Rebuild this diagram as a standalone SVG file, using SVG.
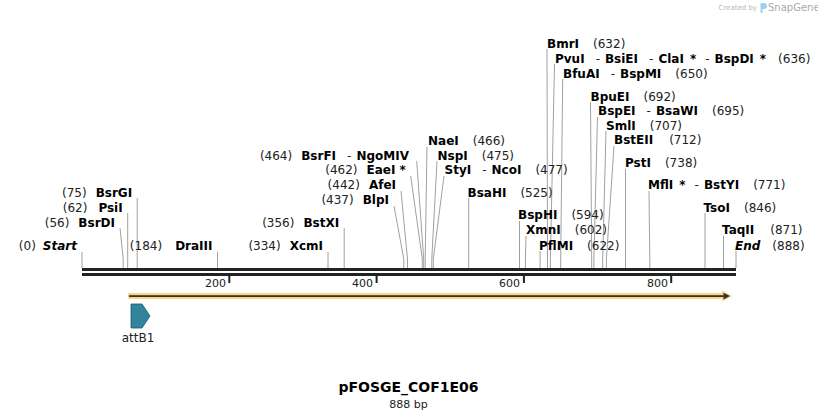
<svg xmlns="http://www.w3.org/2000/svg" width="818" height="419" viewBox="0 0 818 419">
<style>
text{font-family:"DejaVu Sans",Verdana,sans-serif;font-size:12px;fill:#222}
.b{font-weight:bold;fill:#000}
.i{font-style:italic}
.e{text-anchor:end}
.cut{fill:none;stroke:#a0a0a0;stroke-width:1}
.tick{fill:#222}
.tl{font-size:11px;text-anchor:end}
</style>
<rect width="818" height="419" fill="#fff"/>
<g id="watermark">
<text x="757" y="10" text-anchor="end" style="font-size:7px;fill:#b8b8b8">Created by</text>
<path d="M760.5 3 h3.5 a3 3 0 0 1 0 6 h-1.5 v4 h-2 z" fill="#9fd0ef"/>
<text x="768" y="11" style="font-size:10px;fill:#aaa">SnapGene</text>
</g>
<g id="connectors">
<path class="cut" d="M82 252V268"/>
<path class="cut" d="M120 228L123.2 259V268"/>
<path class="cut" d="M127.7 213V268"/>
<path class="cut" d="M137.2 198V268"/>
<path class="cut" d="M217.5 252V268"/>
<path class="cut" d="M328 252V268"/>
<path class="cut" d="M344.2 228V268"/>
<path class="cut" d="M394 206L403.8 259V268"/>
<path class="cut" d="M401 191L407.5 259V268"/>
<path class="cut" d="M410.7 176L422.3 259V268"/>
<path class="cut" d="M416.7 161L423.7 259V268"/>
<path class="cut" d="M427 147L425.2 259V268"/>
<path class="cut" d="M437 161L431.8 259V268"/>
<path class="cut" d="M444 176L433.3 259V268"/>
<path class="cut" d="M468.7 198V268"/>
<path class="cut" d="M519.5 221V268"/>
<path class="cut" d="M526 236L525.4 259V268"/>
<path class="cut" d="M540.1 251V268"/>
<path class="cut" d="M547 49L547.5 259V268"/>
<path class="cut" d="M554.5 64L550.4 259V268"/>
<path class="cut" d="M562.7 79L560.7 259V268"/>
<path class="cut" d="M590.5 102L591.7 259V268"/>
<path class="cut" d="M597.5 117L593.9 259V268"/>
<path class="cut" d="M606 131L602.7 259V268"/>
<path class="cut" d="M614 146L606.4 259V268"/>
<path class="cut" d="M625.5 169V268"/>
<path class="cut" d="M649 191L649.8 259V268"/>
<path class="cut" d="M705 213V268"/>
<path class="cut" d="M723.5 236V268"/>
<path class="cut" d="M736 251V268"/>
</g>
<g id="backbone">
<rect x="82" y="268" width="654" height="3" fill="#222"/>
<rect x="82" y="273" width="654" height="3" fill="#222"/>
<rect class="tick" x="228.3" y="276" width="2" height="7"/>
<rect class="tick" x="375.6" y="276" width="2" height="7"/>
<rect class="tick" x="522.9" y="276" width="2" height="7"/>
<rect class="tick" x="670.2" y="276" width="2" height="7"/>
<text class="tl" x="226" y="287">200</text>
<text class="tl" x="373" y="287">400</text>
<text class="tl" x="520" y="287">600</text>
<text class="tl" x="668" y="287">800</text>
</g>
<g id="orf">
<rect x="128" y="293" width="596" height="6" fill="#fcd58a"/>
<polygon points="722,290.5 732.5,296 722,301.5" fill="#fcd58a"/>
<rect x="129" y="295.2" width="595" height="1.8" fill="#333"/>
<polygon points="723.5,292.8 730,296.1 723.5,299.4" fill="#333"/>
</g>
<g id="attB1">
<polygon points="131,304 142,304 150,316 142,328 131,328" fill="#31849b" stroke="#1d5868" stroke-width="0.8"/>
<text x="138" y="342" text-anchor="middle">attB1</text>
</g>
<g id="site-Start"><text class="e" x="77" y="249.5">(0)<tspan class="b i" dx="7">Start</tspan></text></g>
<g id="site-BsrDI"><text class="e" x="115" y="226.5">(56)<tspan class="b" dx="9">BsrDI</tspan></text></g>
<g id="site-PsiI"><text class="e" x="122.7" y="211.5">(62)<tspan class="b" dx="11">PsiI</tspan></text></g>
<g id="site-BsrGI"><text class="e" x="132.2" y="196.5">(75)<tspan class="b" dx="9">BsrGI</tspan></text></g>
<g id="site-DraIII"><text class="e" x="212.5" y="249.5">(184)<tspan class="b" dx="13">DraIII</tspan></text></g>
<g id="site-XcmI"><text class="e" x="323" y="249.5">(334)<tspan class="b" dx="9">XcmI</tspan></text></g>
<g id="site-BstXI"><text class="e" x="339.2" y="226.5">(356)<tspan class="b" dx="9">BstXI</tspan></text></g>
<g id="site-BlpI"><text class="e" x="389" y="204">(437)<tspan class="b" dx="9">BlpI</tspan></text></g>
<g id="site-AfeI"><text class="e" x="396" y="189">(442)<tspan class="b" dx="9">AfeI</tspan></text></g>
<g id="site-EaeI"><text class="e" x="405.7" y="174">(462)<tspan class="b" dx="9">EaeI</tspan><tspan class="b" dx="4">*</tspan></text></g>
<g id="site-BsrFI"><text class="e" x="409" y="159.5">(464)<tspan class="b" dx="9">BsrFI</tspan><tspan dx="11">-</tspan><tspan class="b" dx="5">NgoMIV</tspan></text></g>
<g id="site-NaeI"><text x="428" y="144.5"><tspan class="b">NaeI</tspan><tspan dx="14">(466)</tspan></text></g>
<g id="site-NspI"><text x="437.5" y="159.5"><tspan class="b">NspI</tspan><tspan dx="14">(475)</tspan></text></g>
<g id="site-StyI"><text x="444.5" y="174"><tspan class="b">StyI</tspan><tspan dx="11">-</tspan><tspan class="b" dx="5">NcoI</tspan><tspan dx="14">(477)</tspan></text></g>
<g id="site-BsaHI"><text x="467.5" y="196.5"><tspan class="b">BsaHI</tspan><tspan dx="14">(525)</tspan></text></g>
<g id="site-BspHI"><text x="518" y="219"><tspan class="b">BspHI</tspan><tspan dx="14">(594)</tspan></text></g>
<g id="site-XmnI"><text x="526" y="234"><tspan class="b">XmnI</tspan><tspan dx="14">(602)</tspan></text></g>
<g id="site-PflMI"><text x="539" y="249.5"><tspan class="b">PflMI</tspan><tspan dx="14">(622)</tspan></text></g>
<g id="site-BmrI"><text x="547" y="47.5"><tspan class="b">BmrI</tspan><tspan dx="14">(632)</tspan></text></g>
<g id="site-PvuI"><text x="555" y="62.5"><tspan class="b">PvuI</tspan><tspan dx="11">-</tspan><tspan class="b" dx="5">BsiEI</tspan><tspan dx="11">-</tspan><tspan class="b" dx="5">ClaI</tspan><tspan class="b" dx="6">*</tspan><tspan dx="9">-</tspan><tspan class="b" dx="5">BspDI</tspan><tspan class="b" dx="6">*</tspan><tspan dx="12">(636)</tspan></text></g>
<g id="site-BfuAI"><text x="563" y="77.5"><tspan class="b">BfuAI</tspan><tspan dx="11">-</tspan><tspan class="b" dx="5">BspMI</tspan><tspan dx="14">(650)</tspan></text></g>
<g id="site-BpuEI"><text x="590.5" y="100.5"><tspan class="b">BpuEI</tspan><tspan dx="14">(692)</tspan></text></g>
<g id="site-BspEI"><text x="598" y="115"><tspan class="b">BspEI</tspan><tspan dx="11">-</tspan><tspan class="b" dx="5">BsaWI</tspan><tspan dx="14">(695)</tspan></text></g>
<g id="site-SmlI"><text x="606" y="129.5"><tspan class="b">SmlI</tspan><tspan dx="14">(707)</tspan></text></g>
<g id="site-BstEII"><text x="614" y="144"><tspan class="b">BstEII</tspan><tspan dx="16">(712)</tspan></text></g>
<g id="site-PstI"><text x="625" y="167"><tspan class="b">PstI</tspan><tspan dx="14">(738)</tspan></text></g>
<g id="site-MflI"><text x="648" y="189"><tspan class="b">MflI</tspan><tspan class="b" dx="6">*</tspan><tspan dx="9">-</tspan><tspan class="b" dx="5">BstYI</tspan><tspan dx="14">(771)</tspan></text></g>
<g id="site-TsoI"><text x="703.5" y="211.5"><tspan class="b">TsoI</tspan><tspan dx="14">(846)</tspan></text></g>
<g id="site-TaqII"><text x="722" y="234"><tspan class="b">TaqII</tspan><tspan dx="16">(871)</tspan></text></g>
<g id="site-End"><text x="735" y="249.5"><tspan class="b i">End</tspan><tspan dx="12">(888)</tspan></text></g>
<g id="title">
<text x="408.5" y="392" text-anchor="middle" style="font-size:14px;font-weight:bold;fill:#000">pFOSGE_COF1E06</text>
<text x="408.5" y="408" text-anchor="middle" style="font-size:11px">888 bp</text>
</g>
</svg>
